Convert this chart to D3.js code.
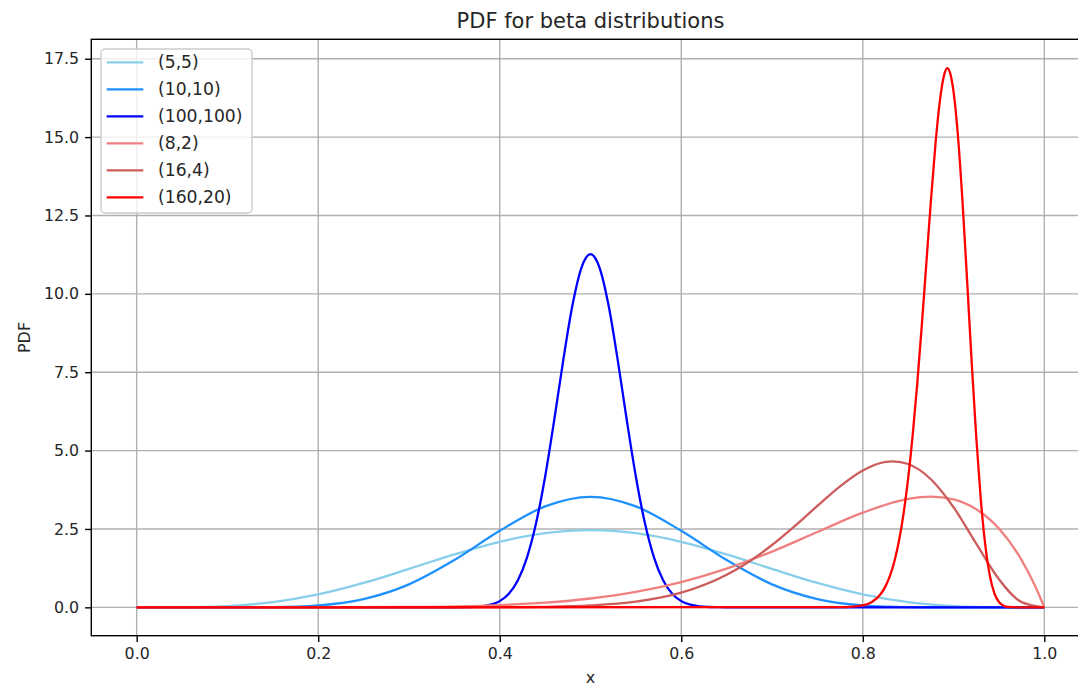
<!DOCTYPE html>
<html>
<head>
<meta charset="utf-8">
<script src="https://cdn.jsdelivr.net/npm/d3@7"></script>
<style>
  body { margin: 0; background: #fff; }
  svg { display: block; font-family: "DejaVu Sans", sans-serif; }
</style>
</head>
<body>
<svg id="chart" width="1078" height="688"></svg>
<script>
// values
const x_5_5 = [0, 0.05, 0.1, 0.15, 0.2, 0.25, 0.3, 0.35, 0.4, 0.45, 0.5, 0.55, 0.6, 0.65, 0.7, 0.75, 0.8, 0.85, 0.9, 0.95, 1];
const pdf_5_5 = [0, 0.0032, 0.0413, 0.1665, 0.4129, 0.7787, 1.2252, 1.6876, 2.0902, 2.364, 2.4609, 2.364, 2.0902, 1.6876, 1.2252, 0.7787, 0.4129, 0.1665, 0.0413, 0.0032, 0];

const x_10_10 = x_5_5;
const pdf_10_10 = [0, 0, 0.0004, 0.0082, 0.0635, 0.2646, 0.7338, 1.508, 2.4404, 3.2192, 3.5239, 3.2192, 2.4404, 1.508, 0.7338, 0.2646, 0.0635, 0.0082, 0.0004, 0, 0];

const x_100_100 = [0, 0.35, 0.36, 0.37, 0.38, 0.39, 0.4, 0.41, 0.42, 0.43, 0.44, 0.45, 0.46, 0.47, 0.48, 0.49, 0.5,
  0.51, 0.52, 0.53, 0.54, 0.55, 0.56, 0.57, 0.58, 0.59, 0.6, 0.61, 0.62, 0.63, 0.64, 0.65, 1];
const pdf_100_100 = [0, 0.001, 0.0035, 0.011, 0.0317, 0.083, 0.1981, 0.4324, 0.8649, 1.588, 2.681, 4.167, 5.969, 7.886, 9.618, 10.832, 11.27,
  10.832, 9.618, 7.886, 5.969, 4.167, 2.681, 1.588, 0.8649, 0.4324, 0.1981, 0.083, 0.0317, 0.011, 0.0035, 0.001, 0];

const x_8_2 = [0, 0.1, 0.2, 0.3, 0.4, 0.45, 0.5, 0.55, 0.6, 0.65, 0.7, 0.75, 0.8, 0.85, 0.875, 0.9, 0.925, 0.95, 0.975, 0.99, 1];
const pdf_8_2 = [0, 0, 0.0007, 0.011, 0.0708, 0.148, 0.2813, 0.4933, 0.8062, 1.2354, 1.7789, 2.4027, 3.0199, 3.4622, 3.5343, 3.4437, 3.1289, 2.514, 1.5077, 0.6711, 0];

const x_16_4 = [0, 0.3, 0.4, 0.45, 0.5, 0.55, 0.6, 0.65, 0.675, 0.7, 0.725, 0.75, 0.775, 0.8, 0.825, 0.8333, 0.85, 0.875, 0.9, 0.925, 0.95, 0.975, 1];
const pdf_16_4 = [0, 0, 0.0036, 0.0162, 0.0591, 0.1801, 0.4665, 1.0384, 1.4644, 1.9874, 2.5914, 3.2372, 3.8594, 4.3639, 4.6382, 4.6591, 4.5709, 4.0861, 3.1921, 2.0312, 0.8979, 0.1657, 0];

const x_160_20 = [0, 0.78, 0.8, 0.81, 0.82, 0.825, 0.83, 0.835, 0.84, 0.845, 0.85, 0.855, 0.86, 0.865, 0.87, 0.875, 0.88, 0.885, 0.89, 0.8933,
  0.895, 0.9, 0.905, 0.91, 0.915, 0.92, 0.925, 0.93, 0.935, 0.94, 0.945, 0.95, 0.955, 0.96, 0.97, 1];
const pdf_160_20 = [0, 0.0069, 0.0634, 0.1725, 0.4346, 0.669, 1.0085, 1.486, 2.1395, 3.007, 4.1206, 5.498, 7.133, 8.984, 10.967, 12.948, 14.751, 16.17, 17.024, 17.2,
  17.14, 16.448, 14.98, 12.876, 10.388, 7.808, 5.424, 3.4455, 1.978, 1.0089, 0.449, 0.1698, 0.0529, 0.0129, 0.0003, 0];

const seriesLabels = ["(5,5)", "(10,10)", "(100,100)", "(8,2)", "(16,4)", "(160,20)"];
const seriesColors = ["skyblue", "dodgerblue", "blue", "lightcoral", "indianred", "red"];
const seriesX = [x_5_5, x_10_10, x_100_100, x_8_2, x_16_4, x_160_20];
const seriesY = [pdf_5_5, pdf_10_10, pdf_100_100, pdf_8_2, pdf_16_4, pdf_160_20];

const xTicks = [0, 0.2, 0.4, 0.6, 0.8, 1.0];
const yTicks = [0, 2.5, 5, 7.5, 10, 12.5, 15, 17.5];

const plot = { left: 91.3, right: 1089.7, top: 39.3, bottom: 635.7 };

const svg = d3.select("#chart");

const x = d3.scaleLinear().domain([-0.05, 1.05]).range([plot.left, plot.right]);
const y = d3.scaleLinear().domain([-0.905, 18.12]).range([plot.bottom, plot.top]);

svg.append("defs").append("clipPath").attr("id", "clip")
  .append("rect")
  .attr("x", plot.left).attr("y", plot.top)
  .attr("width", plot.right - plot.left).attr("height", plot.bottom - plot.top);

// grid
const grid = svg.append("g").attr("stroke", "#b0b0b0").attr("stroke-width", 1.4);
grid.selectAll(".gx").data(xTicks).join("line")
  .attr("x1", (d) => x(d)).attr("x2", (d) => x(d))
  .attr("y1", plot.top).attr("y2", plot.bottom);
grid.selectAll(".gy").data(yTicks).join("line")
  .attr("class", "gy")
  .attr("x1", plot.left).attr("x2", plot.right)
  .attr("y1", (d) => y(d)).attr("y2", (d) => y(d));

// curves
const line = d3.line()
  .x((d) => x(d[0]))
  .y((d) => y(d[1]))
  .curve(d3.curveMonotoneX);

const series = seriesLabels.map((label, i) => ({
  label,
  color: seriesColors[i],
  points: seriesX[i].map((v, j) => [v, seriesY[i][j]]),
}));

svg.append("g").attr("clip-path", "url(#clip)")
  .selectAll("path")
  .data(series)
  .join("path")
  .attr("d", (d) => line(d.points))
  .attr("fill", "none")
  .attr("stroke", (d) => d.color)
  .attr("stroke-width", 2.3)
  .attr("stroke-linejoin", "round");

// axes
const xAxis = d3.axisBottom(x).tickValues(xTicks).tickFormat(d3.format(".1f"))
  .tickSize(6.2).tickPadding(6);
const yAxis = d3.axisLeft(y).tickValues(yTicks).tickFormat(d3.format(".1f"))
  .tickSize(6.2).tickPadding(6);

const gx = svg.append("g").attr("transform", `translate(0,${plot.bottom})`).call(xAxis);
const gy = svg.append("g").attr("transform", `translate(${plot.left},0)`).call(yAxis);

[gx, gy].forEach((g) => {
  g.select(".domain").remove();
  g.selectAll(".tick line").attr("stroke", "#000").attr("stroke-width", 1.4);
  g.selectAll(".tick text").attr("fill", "#262626")
    .style("font-family", "DejaVu Sans").style("font-size", "15.8px");
});

// spines
svg.append("rect")
  .attr("x", plot.left).attr("y", plot.top)
  .attr("width", plot.right - plot.left).attr("height", plot.bottom - plot.top)
  .attr("fill", "none").attr("stroke", "#000").attr("stroke-width", 1.4);

// title and labels
svg.append("text")
  .attr("x", (plot.left + plot.right) / 2).attr("y", 28)
  .attr("text-anchor", "middle").style("font-size", "21px").attr("fill", "#262626")
  .text("PDF for beta distributions");

svg.append("text")
  .attr("x", (plot.left + plot.right) / 2).attr("y", 683)
  .attr("text-anchor", "middle").style("font-size", "16px").attr("fill", "#262626")
  .text("x");

svg.append("text")
  .attr("transform", `translate(30,${(plot.top + plot.bottom) / 2}) rotate(-90)`)
  .attr("text-anchor", "middle").style("font-size", "16px").attr("fill", "#262626")
  .text("PDF");

// legend
const legend = svg.append("g").attr("transform", "translate(101,49)");
legend.append("rect")
  .attr("width", 151).attr("height", 164).attr("rx", 4)
  .attr("fill", "#fff").attr("fill-opacity", 0.8)
  .attr("stroke", "#cccccc").attr("stroke-width", 1.4);

const rows = legend.selectAll(".row").data(series).join("g")
  .attr("class", "row")
  .attr("transform", (d, i) => `translate(0,${13.3 + i * 27})`);
rows.append("line")
  .attr("x1", 5.7).attr("x2", 42.3)
  .attr("stroke", (d) => d.color).attr("stroke-width", 2.3);
rows.append("text")
  .attr("x", 57).attr("dy", "0.35em")
  .style("font-size", "17.2px").attr("fill", "#262626")
  .text((d) => d.label);
</script>
</body>
</html>
